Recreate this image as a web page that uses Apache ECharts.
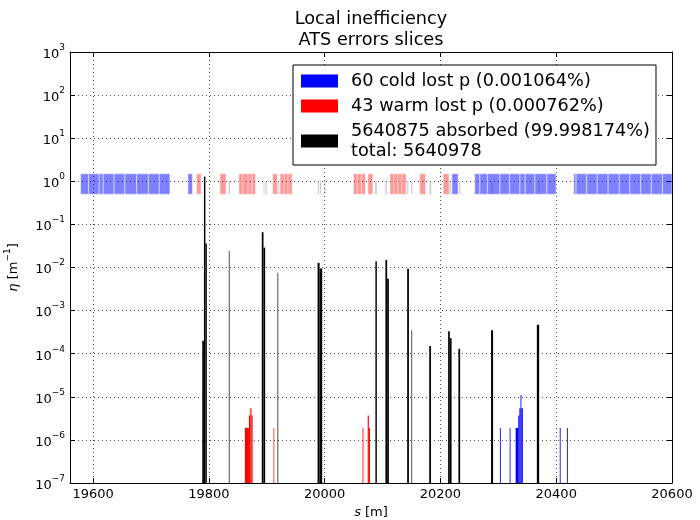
<!DOCTYPE html>
<html>
<head>
<meta charset="utf-8">
<script src="https://cdn.jsdelivr.net/npm/echarts@6/dist/echarts.min.js"></script>
<style>
  html, body { margin: 0; padding: 0; background: #fff; }
  #chart { width: 700px; height: 520px; }
</style>
</head>
<body>
<div id="chart"></div>
<script>
// aperture band: element extents along s [m]
const coldAperture = [
  [19578.3, 19592.1], [19592.1, 19610.4], [19610.4, 19617.4], [19617.4, 19636.2], [19636.2, 19654.9],
  [19654.9, 19675.2], [19675.2, 19695.5], [19695.5, 19714.3], [19714.3, 19732.6],
  [19763.7, 19771.6],
  [20219.7, 20230.5],
  [20259.2, 20268.1], [20268.1, 20281], [20281, 20302.7], [20302.7, 20319.6], [20319.6, 20337.4],
  [20337.4, 20346.3], [20346.3, 20363.1], [20363.1, 20383.8], [20383.8, 20399.7],
  [20430.3, 20434.3], [20434.3, 20452.6], [20452.6, 20470.9], [20470.9, 20489.7], [20489.7, 20508.9],
  [20508.9, 20527.2], [20527.2, 20546], [20546, 20564.3], [20564.3, 20583.6], [20583.6, 20600]
];
const warmAperture = [
  [19778.6, 19786.5], [19819.1, 19829.5],
  [19851.8, 19858.7], [19858.7, 19867.6], [19867.6, 19874.5], [19874.5, 19880.4],
  [19910.1, 19918], [19923, 19929.9], [19929.9, 19936.8], [19936.8, 19943.7],
  [20049.6, 20056.5], [20056.5, 20063.4], [20063.4, 20070.3], [20074.8, 20083.2],
  [20112.8, 20119.8], [20119.8, 20126.7], [20126.7, 20133.6], [20133.6, 20140.5],
  [20164.3, 20174.2], [20204.8, 20214.7]
];
const otherAperture = [
  [19834, 19836.4], [19894.3, 19895.8], [19897.7, 19899.7], [19918, 19920], [19920.5, 19922],
  [19988.2, 19990.2], [19991.7, 19993.7], [19999.1, 20001.1], [20087.1, 20090.1], [20103.9, 20105.4],
  [20106.4, 20107.9], [20142.5, 20144.5], [20149.4, 20151.4], [20181.1, 20184.1], [20214.7, 20217.7],
  [20232.5, 20234.5], [20287.9, 20289.9], [20369, 20371]
];
const bandLow = 0.5;
const bandHigh = 1.5;
const otherHigh = 1.0;

// losses: [s start, s end, eta]
const absorbedLoss = [
  [19788.5, 19791.4, 2e-4], [19791.4, 19793.9, 1.3], [19793.9, 19796.4, 0.036],
  [19834.4, 19835.6, 0.024],
  [19891.3, 19894.3, 0.066], [19894.3, 19897.2, 0.029],
  [19918.5, 19919.7, 0.0076],
  [19987.7, 19991.2, 0.0128], [19991.2, 19995.7, 0.0095],
  [20087.6, 20090.1, 0.014],
  [20104.9, 20107.9, 0.015], [20107.9, 20110.9, 0.0055],
  [20142.5, 20145.5, 0.0093],
  [20149.9, 20151.1, 3.5e-4],
  [20180.6, 20183.6, 1.5e-4],
  [20213.2, 20216.2, 3.3e-4], [20216.2, 20219.2, 2.3e-4],
  [20231, 20234, 1.3e-4],
  [20287.4, 20290.9, 3.5e-4],
  [20366.5, 20370.5, 4.7e-4]
];
const warmLoss = [
  [19862.1, 19869.1, 1.9e-6], [19869.1, 19871.5, 3.7e-6], [19871.5, 19873.5, 5.4e-6], [19873.5, 19875.5, 3.7e-6],
  [19911.6, 19912.8, 1.9e-6],
  [20065.4, 20066.9, 1.9e-6], [20074.3, 20076.3, 3.7e-6], [20076.3, 20078.2, 1.9e-6]
];
const coldLoss = [
  [20302.7, 20304.2, 1.9e-6], [20319.6, 20321, 1.9e-6],
  [20329.9, 20334.4, 1.9e-6], [20334.4, 20336.4, 3.7e-6], [20336.4, 20338.3, 5.4e-6],
  [20338.3, 20339.8, 1.1e-5], [20339.8, 20342.3, 5.4e-6],
  [20406.1, 20407.6, 1.9e-6], [20418.5, 20420, 1.9e-6]
];
const lossFloor = 1e-7;

const legendNames = [
  "60 cold lost p (0.001064%)",
  "43 warm lost p (0.000762%)",
  "5640875 absorbed (99.998174%)\ntotal: 5640978"
];

const font = "DejaVu Sans";

function rectItem(params, api) {
  const p0 = api.coord([api.value(0), api.value(3)]);
  const p1 = api.coord([api.value(1), api.value(2)]);
  return {
    type: "rect",
    shape: { x: p0[0], y: p0[1], width: p1[0] - p0[0], height: p1[1] - p0[1] },
    style: api.style()
  };
}

function rectSeries(name, data, itemStyle) {
  return {
    type: "custom",
    name: name,
    renderItem: rectItem,
    clip: true,
    encode: { x: [0, 1], y: [2, 3] },
    itemStyle: itemStyle,
    data: data
  };
}

const chart = echarts.init(document.getElementById("chart"));
const option = {
  backgroundColor: "#fff",
  animation: false,
  title: {
    text: "Local inefficiency\nATS errors slices",
    left: 366,
    top: 4,
    textAlign: "center",
    textStyle: { fontFamily: font, fontSize: 17.7, fontWeight: "normal", color: "#000", lineHeight: 21 }
  },
  legend: {
    orient: "vertical",
    left: 293,
    top: 65,
    padding: [6, 6, 4, 8],
    itemGap: 5,
    itemWidth: 37,
    itemHeight: 13,
    borderColor: "#000",
    borderWidth: 1,
    backgroundColor: "#fff",
    selectedMode: false,
    textStyle: { fontFamily: font, fontSize: 17.7, color: "#000", lineHeight: 20, padding: [0, 0, 0, 8] },
    data: [
      { name: legendNames[0], icon: "rect", itemStyle: { color: "#0000ff" } },
      { name: legendNames[1], icon: "rect", itemStyle: { color: "#ff0000" } },
      { name: legendNames[2], icon: "rect", itemStyle: { color: "#000000" } }
    ]
  },
  grid: { left: 70, right: 28, top: 52, bottom: 37, outerBoundsMode: "none" },
  xAxis: [
    {
      type: "value",
      min: 19560,
      max: 20600,
      splitNumber: 5,
      name: "{i|s} [m]",
      nameLocation: "middle",
      nameGap: 21,
      nameTextStyle: {
        fontFamily: font, fontSize: 13, color: "#000",
        rich: { i: { fontFamily: font, fontSize: 13, fontStyle: "italic", color: "#000" } }
      },
      axisLine: { show: true, onZero: false, lineStyle: { color: "#000", width: 1 } },
      axisTick: { show: true, inside: true, length: 5, lineStyle: { color: "#000" } },
      axisLabel: {
        showMinLabel: false, margin: 5, fontFamily: font, fontSize: 13, color: "#000",
        formatter: v => String(v)
      },
      splitLine: { show: true, lineStyle: { type: [1, 3], color: "#000", width: 1, opacity: 0.7 } }
    },
    {
      type: "value",
      position: "top",
      min: 19560,
      max: 20600,
      splitNumber: 5,
      axisLine: { show: true, onZero: false, lineStyle: { color: "#000", width: 1 } },
      axisTick: { show: true, inside: true, length: 5, lineStyle: { color: "#000" } },
      axisLabel: { show: false },
      splitLine: { show: false }
    }
  ],
  yAxis: [
    {
      type: "log",
      logBase: 10,
      min: 1e-7,
      max: 1e3,
      interval: 1,
      name: "{i|η}{n| [m}{e|\u22121}{n|]}",
      nameLocation: "middle",
      nameGap: 50,
      nameRotate: 90,
      nameTextStyle: {
        fontFamily: font, fontSize: 13, color: "#000",
        rich: {
          i: { fontFamily: font, fontSize: 13, fontStyle: "italic", color: "#000", padding: [4, 0, 0, 0] },
          n: { fontFamily: font, fontSize: 13, color: "#000", padding: [4, 0, 0, 0] },
          e: { fontFamily: font, fontSize: 9, color: "#000", verticalAlign: "top" }
        }
      },
      axisLine: { show: true, onZero: false, lineStyle: { color: "#000", width: 1 } },
      axisTick: { show: true, inside: true, length: 5, lineStyle: { color: "#000" } },
      axisLabel: {
        margin: 5,
        formatter: function (v) {
          const n = Math.round(Math.log10(v));
          return "{b|10}{e|" + (n < 0 ? "\u2212" + (-n) : n) + "}";
        },
        rich: {
          b: { fontFamily: font, fontSize: 13, color: "#000", padding: [5, 0, 0, 0] },
          e: { fontFamily: font, fontSize: 9, color: "#000", verticalAlign: "top" }
        }
      },
      splitLine: { show: true, lineStyle: { type: [1, 3], color: "#000", width: 1, opacity: 0.7 } }
    },
    {
      type: "log",
      logBase: 10,
      position: "right",
      min: 1e-7,
      max: 1e3,
      interval: 1,
      axisLine: { show: true, onZero: false, lineStyle: { color: "#000", width: 1 } },
      axisTick: { show: true, inside: true, length: 5, lineStyle: { color: "#000" } },
      axisLabel: { show: false },
      splitLine: { show: false }
    }
  ],
  series: [
    rectSeries("other aperture", otherAperture.map(d => [d[0], d[1], bandLow, otherHigh]),
      { color: "#909090", opacity: 0.45 }),
    rectSeries("cold aperture", coldAperture.map(d => [d[0], d[1], bandLow, bandHigh]),
      { color: "#0000ff", opacity: 0.5, borderColor: "#ffffff", borderWidth: 1 }),
    rectSeries("warm aperture", warmAperture.map(d => [d[0], d[1], bandLow, bandHigh]),
      { color: "#ff0000", opacity: 0.4, borderColor: "#ffffff", borderWidth: 1 }),
    rectSeries(legendNames[2], absorbedLoss.map(d => [d[0], d[1], lossFloor, d[2]]),
      { color: "#000000" }),
    rectSeries(legendNames[1], warmLoss.map(d => [d[0], d[1], lossFloor, d[2]]),
      { color: "#ff0000" }),
    rectSeries(legendNames[0], coldLoss.map(d => [d[0], d[1], lossFloor, d[2]]),
      { color: "#0000ff" })
  ]
};
chart.setOption(option);
</script>
</body>
</html>
